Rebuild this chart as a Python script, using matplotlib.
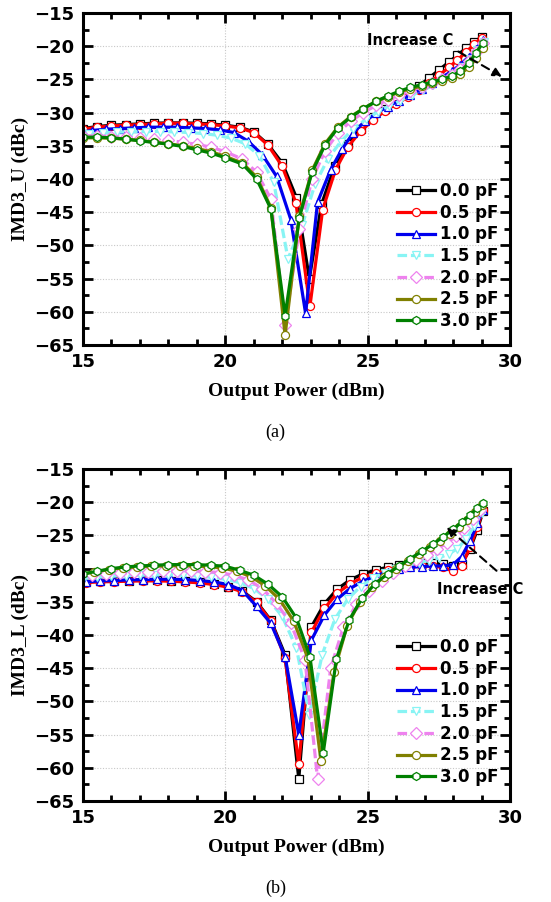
import matplotlib
matplotlib.use("Agg")
import matplotlib.pyplot as plt
from matplotlib.ticker import MultipleLocator

labels = ["0.0 pF", "0.5 pF", "1.0 pF", "1.5 pF", "2.0 pF", "2.5 pF", "3.0 pF"]
colors = ["#000000", "#ff0000", "#0000ee", "#88f4f4", "#ee82ee", "#808000", "#008000"]
markers = ["s", "o", "^", "v", "D", "o", "h"]
styles = ["-", "-", "-", (0, (3, 1.2)), (0, (3, 1.2)), "-", "-"]

# ---------- (a) IMD3_U ----------
u_x_00 = [15.0, 15.5, 16.0, 16.5, 17.0, 17.5, 18.0, 18.5, 19.0, 19.5, 20.0, 20.5, 21.0, 21.5, 22.0,
          22.5, 22.95, 23.38, 23.85, 24.3, 24.75, 25.2, 25.6, 26.0, 26.4, 26.8, 27.15, 27.5, 27.85, 28.15, 28.45, 28.75, 29.0]
u_y_00 = [-32.4, -32.1, -31.9, -31.8, -31.7, -31.6, -31.55, -31.55, -31.6, -31.7, -31.9, -32.2, -32.9, -34.8, -37.6,
          -42.85, -55.0, -43.8, -38.0, -34.8, -32.4, -30.7, -29.4, -28.3, -27.2, -26.0, -24.8, -23.6, -22.4, -21.4, -20.3, -19.4, -18.6]
u_x_05 = [15.0, 15.5, 16.0, 16.5, 17.0, 17.5, 18.0, 18.5, 19.0, 19.5, 20.0, 20.5, 21.0, 21.5, 22.0,
          22.48, 22.97, 23.42, 23.87, 24.3, 24.75, 25.2, 25.6, 26.0, 26.4, 26.8, 27.15, 27.5, 27.85, 28.15, 28.45, 28.75, 29.0]
u_y_05 = [-32.5, -32.2, -32.0, -31.9, -31.8, -31.7, -31.6, -31.6, -31.7, -31.8, -32.0, -32.3, -33.0, -34.9, -38.1,
          -43.6, -59.2, -44.6, -38.6, -35.2, -32.8, -31.1, -29.8, -28.7, -27.7, -26.6, -25.5, -24.4, -23.2, -22.1, -20.9, -19.7, -18.7]
u_x_10 = [15.0, 15.3, 15.8, 16.3, 16.8, 17.3, 17.8, 18.3, 18.8, 19.3, 19.8, 20.3, 20.8, 21.3, 21.8,
          22.3, 22.82, 23.24, 23.7, 24.1, 24.5, 24.9, 25.3, 25.7, 26.1, 26.5, 26.9, 27.25, 27.6, 27.95, 28.25, 28.55, 28.8, 29.05]
u_y_10 = [-32.9, -32.7, -32.5, -32.4, -32.3, -32.2, -32.2, -32.2, -32.3, -32.4, -32.6, -33.0, -34.3, -36.35, -39.6,
          -46.1, -60.25, -43.5, -38.6, -35.5, -33.0, -31.3, -30.1, -29.1, -28.2, -27.3, -26.4, -25.6, -24.7, -23.8, -22.8, -21.6, -20.4, -19.1]
u_x_15 = [14.7, 15.2, 15.7, 16.2, 16.7, 17.2, 17.7, 18.2, 18.7, 19.2, 19.7, 20.2, 20.7, 21.2, 21.7, 22.2,
          22.7, 23.15, 23.6, 24.05, 24.5, 24.95, 25.35, 25.75, 26.15, 26.55, 26.95, 27.3, 27.65, 28.0, 28.3, 28.6, 28.85, 29.1]
u_y_15 = [-33.4, -33.2, -33.05, -32.95, -32.9, -32.85, -32.85, -32.9, -33.0, -33.15, -33.4, -33.85, -34.7, -36.5, -40.5, -52.0,
          -47.0, -40.8, -37.0, -34.4, -32.4, -31.0, -29.9, -29.0, -28.2, -27.4, -26.6, -25.9, -25.1, -24.2, -23.2, -21.9, -20.6, -19.3]
u_x_hi = [15.0, 15.5, 16.0, 16.5, 17.0, 17.5, 18.0, 18.5, 19.0, 19.5, 20.0,
          20.6, 21.1, 21.6, 22.1, 22.6, 23.05, 23.5, 23.95, 24.4, 24.85, 25.3, 25.7, 26.1, 26.5, 26.9, 27.25, 27.6, 27.95, 28.25, 28.55, 28.8, 29.05]
u_y_20 = [-33.5, -33.5, -33.6, -33.7, -33.9, -34.0, -34.2, -34.45, -34.8, -35.2, -35.9,
          -37.0, -39.0, -43.0, -62.0, -47.5, -40.0, -35.8, -33.1, -31.3, -30.0, -28.9, -28.1, -27.3, -26.7, -26.1, -25.6, -25.0, -24.3, -23.4, -22.2, -20.9, -19.5]
u_y_25 = [-33.8, -33.8, -33.85, -34.0, -34.2, -34.45, -34.7, -35.0, -35.4, -35.9, -36.6,
          -37.6, -39.7, -44.3, -63.5, -45.5, -38.7, -34.7, -32.2, -30.6, -29.4, -28.3, -27.6, -26.9, -26.4, -26.0, -25.6, -25.2, -24.8, -24.2, -23.2, -21.8, -20.2]
u_y_30 = [-33.7, -33.7, -33.8, -34.0, -34.25, -34.5, -34.75, -35.1, -35.6, -36.1, -36.8,
          -37.75, -40.0, -44.5, -60.6, -45.8, -38.9, -34.9, -32.3, -30.7, -29.4, -28.3, -27.5, -26.8, -26.2, -25.8, -25.4, -25.0, -24.5, -23.8, -22.6, -21.0, -19.5]

# ---------- (b) IMD3_L ----------
l_x_lo = [15.1, 15.6, 16.1, 16.6, 17.1, 17.6, 18.1, 18.6, 19.1, 19.6, 20.1, 20.6, 21.1, 21.6, 22.1,
          22.58, 23.02, 23.48, 23.93, 24.38, 24.83, 25.28, 25.7, 26.1, 26.5, 26.9, 27.3, 27.65, 28.0, 28.3, 28.6, 28.85, 29.05]
l_y_00 = [-32.0, -31.9, -31.85, -31.8, -31.75, -31.75, -31.8, -31.9, -32.05, -32.3, -32.7, -33.4, -35.0, -37.8, -43.0,
          -61.65, -38.8, -35.3, -33.1, -31.7, -30.8, -30.2, -29.8, -29.5, -29.3, -29.2, -29.2, -29.3, -29.6, -29.3, -27.0, -24.2, -21.4]
l_y_05 = [-32.1, -32.0, -31.95, -31.9, -31.85, -31.85, -31.9, -32.0, -32.15, -32.4, -32.8, -33.5, -35.1, -37.9, -43.5,
          -59.5, -39.6, -36.0, -33.7, -32.3, -31.3, -30.7, -30.2, -29.9, -29.7, -29.6, -29.6, -29.8, -30.4, -29.6, -26.8, -23.8, -21.2]
l_y_10 = [-32.0, -31.85, -31.8, -31.7, -31.65, -31.6, -31.6, -31.65, -31.8, -32.0, -32.4, -33.3, -35.7, -38.25, -43.25,
          -55.0, -40.8, -37.0, -34.6, -33.0, -31.9, -31.1, -30.5, -30.1, -29.8, -29.7, -29.6, -29.6, -29.4, -28.2, -25.8, -23.2, -21.2]
l_x_15 = [15.0, 15.5, 16.0, 16.5, 17.0, 17.5, 18.0, 18.5, 19.0, 19.5, 20.0, 20.5, 21.0, 21.5, 22.0, 22.5,
          22.95, 23.4, 23.85, 24.3, 24.75, 25.2, 25.6, 26.0, 26.4, 26.8, 27.15, 27.5, 27.85, 28.15, 28.45, 28.75, 29.0]
l_y_15 = [-31.5, -31.3, -31.15, -31.05, -31.0, -30.95, -30.95, -31.0, -31.1, -31.3, -31.6, -32.1, -33.0, -34.6, -37.2, -42.0,
          -52.0, -43.0, -37.6, -34.6, -32.7, -31.4, -30.6, -30.0, -29.5, -29.1, -28.8, -28.4, -27.8, -27.0, -25.6, -23.6, -21.6]
l_x_20 = [14.8, 15.3, 15.8, 16.3, 16.8, 17.3, 17.8, 18.3, 18.8, 19.3, 19.8, 20.3, 20.8, 21.3, 21.8, 22.3, 22.8,
          23.24, 23.7, 24.15, 24.6, 25.05, 25.5, 25.9, 26.3, 26.7, 27.1, 27.45, 27.8, 28.1, 28.4, 28.7, 28.95]
l_y_20 = [-31.2, -31.0, -30.8, -30.65, -30.55, -30.45, -30.4, -30.35, -30.35, -30.45, -30.6, -31.0, -31.7, -33.0, -35.25, -38.25, -43.75,
          -61.65, -45.0, -38.8, -35.4, -33.3, -31.8, -30.6, -29.6, -28.7, -27.9, -27.0, -26.1, -25.1, -23.9, -22.5, -21.2]
l_x_25 = [14.9, 15.4, 15.9, 16.4, 16.9, 17.4, 17.9, 18.4, 18.9, 19.4, 19.9, 20.4, 20.9, 21.4, 21.9, 22.4, 22.9,
          23.36, 23.82, 24.28, 24.72, 25.16, 25.58, 26.0, 26.4, 26.8, 27.18, 27.54, 27.88, 28.2, 28.5, 28.78, 29.02]
l_y_25 = [-30.9, -30.5, -30.15, -29.9, -29.75, -29.65, -29.6, -29.55, -29.6, -29.7, -29.9, -30.4, -31.2, -32.6, -34.6, -37.9, -43.5,
          -59.0, -45.5, -38.6, -35.0, -32.8, -31.2, -30.0, -28.9, -27.8, -26.8, -25.8, -24.8, -23.8, -22.7, -21.5, -20.4]
l_x_30 = [15.0, 15.5, 16.0, 16.5, 17.0, 17.5, 18.0, 18.5, 19.0, 19.5, 20.0, 20.5, 21.0, 21.5, 22.0, 22.5,
          22.97, 23.44, 23.9, 24.35, 24.8, 25.25, 25.7, 26.1, 26.5, 26.9, 27.3, 27.65, 28.0, 28.3, 28.6, 28.85, 29.05]
l_y_30 = [-30.8, -30.4, -30.0, -29.75, -29.6, -29.5, -29.4, -29.4, -29.4, -29.5, -29.65, -30.25, -31.0, -32.35, -34.25, -37.5,
          -43.25, -57.75, -43.65, -37.75, -34.5, -32.3, -30.8, -29.6, -28.5, -27.4, -26.3, -25.2, -24.1, -23.0, -21.9, -20.9, -20.1]

upper = [(u_x_00, u_y_00), (u_x_05, u_y_05), (u_x_10, u_y_10), (u_x_15, u_y_15),
         (u_x_hi, u_y_20), (u_x_hi, u_y_25), (u_x_hi, u_y_30)]
lower = [(l_x_lo, l_y_00), (l_x_lo, l_y_05), (l_x_lo, l_y_10), (l_x_15, l_y_15),
         (l_x_20, l_y_20), (l_x_25, l_y_25), (l_x_30, l_y_30)]

W, H = 551, 902
fig = plt.figure(figsize=(W / 100, H / 100), dpi=100)
axA = fig.add_axes([83 / W, 1 - 345 / H, 427 / W, 332 / H])
axB = fig.add_axes([83 / W, 1 - 801 / H, 427 / W, 332 / H])

serif = "Liberation Serif"
sans = "DejaVu Sans"


def draw(ax, series, ylabel):
    for (x, y), lab, c, m, ls in zip(series, labels, colors, markers, styles):
        ax.plot(x, y, linestyle=ls, color=c, lw=2.3, marker=m, markersize=5.8,
                markerfacecolor="white", markeredgecolor=c, markeredgewidth=0.9, label=lab)
    ax.set_xlim(15, 30)
    ax.set_ylim(-65, -15)
    ax.xaxis.set_major_locator(MultipleLocator(5))
    ax.xaxis.set_minor_locator(MultipleLocator(1))
    ax.yaxis.set_major_locator(MultipleLocator(5))
    ax.yaxis.set_minor_locator(MultipleLocator(2.5))
    ax.tick_params(which="both", direction="in", top=True, right=True, width=2, color="black")
    ax.tick_params(which="major", length=7, labelsize=13, pad=6)
    ax.tick_params(which="minor", length=4)
    for lbl in ax.get_xticklabels() + ax.get_yticklabels():
        lbl.set_fontweight("bold")
        lbl.set_family(sans)
    for s in ax.spines.values():
        s.set_linewidth(2.2)
    ax.grid(True, which="major", color="#c8c8c8", linestyle=(0, (1, 1.5)), linewidth=0.8)
    ax.set_axisbelow(True)
    ax.set_xlabel("Output Power (dBm)", fontsize=14, fontweight="bold", family=serif, labelpad=8)
    ax.set_ylabel(ylabel, fontsize=14, fontweight="bold", family=serif, labelpad=4)
    ax.legend(loc="lower left", bbox_to_anchor=(0.70, 0.0), frameon=False, numpoints=1,
              handlelength=2.3, handletextpad=0.3, labelspacing=0.22,
              prop={"family": sans, "weight": "bold", "size": 12})


draw(axA, upper, "IMD3_U (dBc)")
draw(axB, lower, "IMD3_L (dBc)")

arrow_kw = dict(arrowstyle="-|>", linestyle=(0, (4, 2.5)), color="black", lw=1.5, mutation_scale=13)
axA.text(26.5, -19.2, "Increase C", fontsize=10.5, fontweight="bold", family=sans,
         ha="center", va="center", zorder=10)
axA.annotate("", xy=(29.8, -24.8), xytext=(28.1, -20.6), zorder=10, arrowprops=arrow_kw)
axB.text(28.95, -33.2, "Increase C", fontsize=10.5, fontweight="bold", family=sans,
         ha="center", va="center", zorder=10)
axB.annotate("", xy=(27.7, -23.5), xytext=(29.6, -30.6), zorder=10, arrowprops=arrow_kw)

fig.text(0.5, 1 - 432 / H, "(a)", ha="center", va="center", fontsize=13, family=serif)
fig.text(0.5, 1 - 888 / H, "(b)", ha="center", va="center", fontsize=13, family=serif)

fig.savefig("out.png", dpi=100)
